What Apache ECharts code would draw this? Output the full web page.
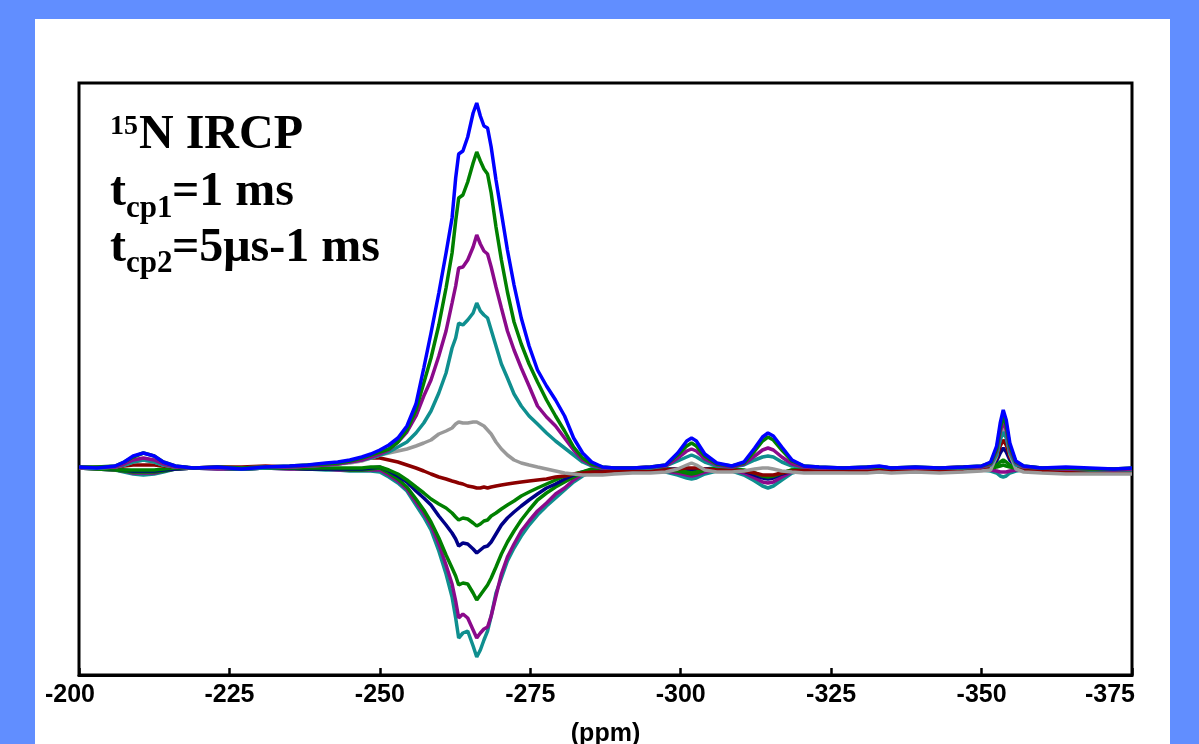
<!DOCTYPE html>
<html>
<head>
<meta charset="utf-8">
<script src="https://cdn.jsdelivr.net/npm/echarts@6/dist/echarts.min.js"></script>
<style>
html,body{margin:0;padding:0;background:#618eff;}
#c{width:1199px;height:744px;}
</style>
</head>
<body>
<div id="c"></div>
<script>
// chemical shift axis (ppm)
var ppm = [-200,-203,-206,-207.5,-209,-210.7,-212.5,-214,-216,-219,-223,-227,-231,-235,-238,-241,-243,-245,-247,-248.5,
-250,-251.5,-253,-254.5,-256,-257.3,-258.5,-259.8,-261,-262,-262.6,-263.1,-263.8,-264.6,-265.5,-266.1,-266.7,-267.3,-267.9,-268.5,-269.3,-270.2,-271.2,-272.3,-273.5,-274.8,-276.2,-277.7,-279.2,-280.7,-282.2,-283.7,-285.2,-287,
-289,-292,-295,-297.5,-299.5,-301,-301.8,-302.6,-304,-306,-308.5,-310.5,-312.3,-313.6,-314.5,-315.4,-316.8,-318.5,-320.5,-323,
-327,-331,-333,-335,-339,-343,-347,-350,-351.5,-352.5,-353.1,-353.6,-354.1,-354.7,-355.7,-357,-360,-364,-368,-372,-375];

var xTicks = [-200,-225,-250,-275,-300,-325,-350,-375];

var blue = [1,0,2,6,12,15,12,6,2,0,1,-1,1,2,3,5,6,8,11,14,18,
23,30,42,64,100,135,175,215,250,290,314,317,331,355,365,352,342,340,321,288,255,218,183,150,122,98,82,68,52,30,15,6,1,
0,0,1,3,15,27,30,27,14,5,2,6,20,31,35,32,21,8,2,1,
0,1,2,0,1,0,1,2,6,22,45,58,48,25,7,2,0,1,0,-1,0];

var greenPos = [1,1,2,6,11,15,12,6,2,0,1,0,1,2,3,4,5,7,10,13,16,
19,26,38,58,85,110,143,180,215,247,270,273,286,305,316,307,299,294,275,241,208,176,146,124,104,86,68,52,37,21,10,4,1,
0,0,1,3,13,22,25,22,12,4,2,5,17,27,31,28,18,7,2,1,
0,1,1,0,1,0,1,2,5,19,40,52,43,22,6,2,0,0,-1,-1,0];

var purplePos = [0,1,1,4,8,10,8,4,1,0,0,0,1,1,2,3,4,6,8,11,14,
18,26,36,52,72,88,112,137,165,182,200,201,208,221,233,224,217,214,201,181,160,137,118,100,82,62,51,42,30,18,8,3,0,
0,0,1,2,10,17,19,17,9,3,1,4,12,18,20,18,11,4,1,0,
0,0,1,0,0,0,1,1,4,17,36,46,38,19,5,1,0,-1,-1,-2,-1];

var tealPos = [0,0,1,3,6,8,6,3,1,0,0,-1,0,1,2,3,4,6,8,10,13,
16,21,26,35,45,57,75,95,120,130,145,143,148,155,165,157,153,150,138,122,104,90,74,62,52,44,35,27,20,13,6,2,0,
0,0,0,2,7,11,13,11,6,2,1,3,8,11,12,11,6,2,1,0,
0,0,1,0,0,0,0,1,3,13,28,36,30,15,3,1,0,-1,-2,-2,-2];

var gray = [0,0,1,3,6,8,6,3,1,0,0,0,1,1,2,3,4,5,7,10,13,
15,17,19,22,25,28,34,37,40,44,46,45,45,46,46,44,42,38,34,26,19,13,8,5,3,1,-1,-3,-5,-6,-7,-7,-7,
-6,-5,-5,-4,-1,3,5,3,-2,-4,-4,-3,-1,0,0,-1,-3,-4,-5,-5,
-5,-5,-4,-5,-4,-5,-4,-3,-2,12,30,41,33,14,-1,-4,-5,-6,-6,-6,-6];

var darkRed = [1,0,1,2,3,3,3,2,1,0,1,1,2,1,2,3,5,7,9,10,10,
8,6,3,0,-3,-6,-9,-11,-13,-14,-15,-16,-18,-19,-20,-20,-19,-20,-19,-18,-17,-16,-15,-14,-13,-12,-11,-9,-8,-6,-5,-4,-4,
-3,-3,-2,-2,-1,0,0,0,-1,-2,-2,-3,-5,-7,-7,-7,-5,-3,-2,-2,
-2,-3,-2,-3,-2,-3,-2,-2,2,10,22,28,23,11,2,-3,-3,-4,-4,-5,-5];

var navy = [0,0,-1,-2,-3,-3,-3,-2,-1,0,0,-1,0,0,-1,-1,-1,-1,-1,0,1,
-3,-8,-14,-23,-30,-37,-48,-57,-65,-71,-78,-75,-76,-81,-85,-82,-79,-78,-74,-66,-57,-50,-44,-38,-32,-26,-20,-16,-11,-7,-4,-2,-1,
0,0,0,-1,-1,-2,-2,-2,-1,0,-1,-3,-7,-10,-11,-10,-6,-3,-1,0,
0,-1,0,-1,0,-1,-1,0,1,7,15,20,16,8,1,-1,-1,-2,-2,-2,-2];

var greenNeg1 = [0,0,-1,-2,-2,-2,-2,-1,0,0,0,0,0,0,0,0,0,0,0,1,1,
-2,-6,-12,-19,-25,-31,-36,-40,-45,-49,-52,-50,-51,-55,-58,-56,-53,-52,-48,-45,-41,-37,-33,-28,-24,-20,-16,-12,-8,-6,-4,-1,0,
0,0,0,-1,-2,-4,-5,-4,-2,0,-1,-2,-5,-8,-9,-8,-5,-2,-1,0,
0,0,1,0,0,0,0,0,0,3,6,8,6,3,0,0,-1,-1,-1,-1,-1];

var greenNeg2 = [0,-1,-2,-3,-4,-4,-4,-3,-1,0,0,-1,0,0,-1,-1,-1,-2,-2,-1,0,
-5,-11,-19,-31,-42,-54,-70,-87,-100,-108,-117,-115,-116,-125,-132,-127,-122,-117,-110,-99,-86,-74,-63,-52,-42,-32,-25,-19,-14,-9,-5,-2,-1,
0,0,-1,-2,-3,-5,-6,-5,-2,-1,-1,-3,-6,-8,-9,-8,-5,-2,-1,0,
0,0,0,0,0,-1,0,-1,0,1,2,3,2,1,0,-1,-1,-1,-2,-2,-1];

var purpleNeg = [0,-1,-2,-3,-5,-5,-5,-3,-1,0,-1,-1,0,-1,-1,-1,-2,-2,-2,-2,-2,
-7,-13,-21,-34,-45,-57,-76,-97,-116,-133,-150,-146,-150,-162,-170,-165,-161,-159,-148,-128,-106,-89,-76,-63,-53,-43,-35,-26,-20,-12,-6,-3,-1,
-1,0,-1,-3,-5,-7,-8,-7,-4,-2,-2,-5,-10,-14,-15,-14,-9,-4,-2,-1,
-1,-1,0,-1,-1,-1,-1,-1,-2,-3,-4,-4,-4,-3,-2,-1,-2,-2,-2,-3,-2];

var tealNeg = [0,-1,-2,-4,-6,-7,-6,-4,-1,0,-1,-1,0,-1,-1,-2,-2,-3,-3,-3,-4,
-9,-15,-23,-37,-49,-62,-83,-106,-129,-150,-170,-165,-163,-178,-189,-182,-172,-163,-148,-125,-110,-93,-80,-68,-57,-47,-38,-30,-22,-14,-8,-4,-1,
-1,-1,-2,-4,-7,-10,-11,-10,-6,-3,-3,-7,-13,-18,-20,-18,-12,-5,-2,-1,
-1,-2,-1,-2,-1,-2,-2,-2,-3,-5,-8,-9,-8,-5,-3,-2,-2,-3,-3,-3,-3];

var seriesList = [
  {name:'teal (-)', values: tealNeg, color:'#0f8f8f'},
  {name:'purple (-)', values: purpleNeg, color:'#8b0a8b'},
  {name:'green (-) 2', values: greenNeg2, color:'#008000'},
  {name:'navy', values: navy, color:'#000088'},
  {name:'green (-) 1', values: greenNeg1, color:'#008000'},
  {name:'dark red', values: darkRed, color:'#8b0000'},
  {name:'gray', values: gray, color:'#999999'},
  {name:'teal (+)', values: tealPos, color:'#0f8f8f'},
  {name:'purple (+)', values: purplePos, color:'#8b0a8b'},
  {name:'green (+)', values: greenPos, color:'#008000'},
  {name:'blue', values: blue, color:'#0000ff'}
];

var chart = echarts.init(document.getElementById('c'), null, {renderer:'canvas'});

var series = seriesList.map(function(s){
  return {
    name: s.name,
    type: 'line',
    symbol: 'none',
    animation: false,
    lineStyle: {color: s.color, width: 3.5},
    itemStyle: {color: s.color},
    data: ppm.map(function(x, i){ return [x, s.values[i]]; })
  };
});

var serif = '"Liberation Serif","Times New Roman",serif';
var sans = '"Liberation Sans",Arial,sans-serif';
function txt(x, y, text, size){
  return {type:'text', x:x, y:y, z:100,
    style:{text:text, fill:'#000', font:'bold ' + size + 'px ' + serif, verticalAlign:'middle', align:'left'}};
}

chart.setOption({
  backgroundColor: '#618eff',
  animation: false,
  grid: {left:79, top:83, width:1053, height:592, show:true, borderColor:'#000', borderWidth:3,
    backgroundColor:'transparent', containLabel:false, outerBoundsMode:'none'},
  xAxis: {
    type:'value', inverse:true, min:-375, max:-200, interval:25,
    name:'(ppm)', nameLocation:'middle', nameGap:47,
    nameTextStyle:{color:'#000', fontSize:25, fontWeight:'bold', fontFamily:sans},
    axisLine:{show:true, onZero:false, lineStyle:{color:'#000', width:3}},
    axisTick:{show:true, inside:true, length:7, lineStyle:{color:'#000', width:2.5}},
    axisLabel:{show:true, margin:8, color:'#000', fontSize:25, fontWeight:'bold', fontFamily:sans,
      customValues: xTicks,
      formatter: function(v){
        if (v === -200) return '{l|' + v + '}';
        if (v === -375) return '{r|' + v + '}';
        return String(v);
      },
      rich: {
        l: {fontSize:25, fontWeight:'bold', fontFamily:sans, color:'#000', padding:[0,18,0,0]},
        r: {fontSize:25, fontWeight:'bold', fontFamily:sans, color:'#000', padding:[0,44,0,0]}
      }
    },
    splitLine:{show:false}
  },
  yAxis: {
    type:'value', min:-207, max:385,
    show:false, splitLine:{show:false}
  },
  graphic: [
    {type:'rect', z:-100, shape:{x:35, y:19, width:1135, height:740}, style:{fill:'#ffffff'}},
    txt(110, 127, '15', 28),
    txt(139, 136, 'N IRCP', 48),
    txt(110, 193, 't', 48),
    txt(126, 209, 'cp1', 31),
    txt(172, 193, '=1 ms', 48),
    txt(110, 249, 't', 48),
    txt(126, 264, 'cp2', 31),
    txt(172, 249, '=5\u03bcs-1 ms', 48)
  ],
  series: series
});
</script>
</body>
</html>
